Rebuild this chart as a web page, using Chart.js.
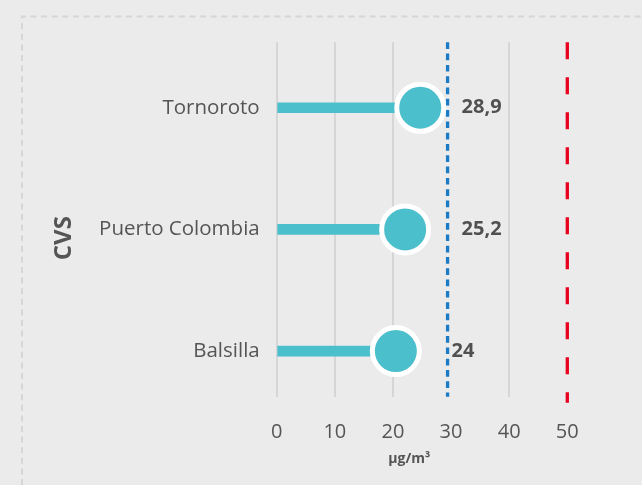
<!DOCTYPE html>
<html>
<head>
<meta charset="utf-8">
<script src="https://cdn.jsdelivr.net/npm/chart.js@4.4.1/dist/chart.umd.min.js"></script>
<style>
    html, body { margin: 0; padding: 0; background: #ebebeb; overflow: hidden; }
    #marc { position: absolute; left: 0; top: 0; }
    #grafic { position: absolute; left: 0; top: 0; }
</style>
</head>
<body>
<svg id="marc" width="642" height="485">
    <path d="M22 485 L22 16.5 L642 16.5" fill="none" stroke="#d6d6d6" stroke-width="2" stroke-dasharray="6 4.6"/>
</svg>
<canvas id="grafic" width="642" height="485"></canvas>
<script>
// dades llegides de la imatge
const estacions = ['Tornoroto', 'Puerto Colombia', 'Balsilla'];
const posicioPunt = [24.7, 22.1, 20.5];
const valorsEtiqueta = [28.9, 25.2, 24];
const limitBlau = 29.4;
const limitVermell = 50;
const ticksX = [0, 10, 20, 30, 40, 50];

Chart.defaults.font.family = "'Open Sans', sans-serif";
Chart.defaults.color = '#555';

const liniesReferencia = {
    id: 'liniesReferencia',
    beforeDatasetsDraw(chart) {
        const ctx = chart.ctx;
        const x = chart.scales.x;
        const area = chart.chartArea;
        ctx.save();
        ctx.lineWidth = 3.3;

        ctx.strokeStyle = '#1b7bc4';
        ctx.setLineDash([6.7, 4.6]);
        const xb = x.getPixelForValue(limitBlau);
        ctx.beginPath();
        ctx.moveTo(xb, area.top);
        ctx.lineTo(xb, area.bottom);
        ctx.stroke();

        ctx.strokeStyle = '#e8001c';
        ctx.setLineDash([17, 18]);
        const xv = x.getPixelForValue(limitVermell);
        ctx.beginPath();
        ctx.moveTo(xv, area.top);
        ctx.lineTo(xv, area.bottom + 6);
        ctx.stroke();
        ctx.restore();
    }
};

const etiquetesValor = {
    id: 'etiquetesValor',
    afterDatasetsDraw(chart) {
        const ctx = chart.ctx;
        const xb = chart.scales.x.getPixelForValue(limitBlau);
        const desplac = [14, 14, 4];
        ctx.save();
        ctx.font = 'bold 20px "Open Sans"';
        ctx.fillStyle = '#505050';
        ctx.textAlign = 'left';
        ctx.textBaseline = 'middle';
        valorsEtiqueta.forEach((v, i) => {
            const y = chart.scales.y.getPixelForValue(i);
            ctx.fillText(String(v).replace('.', ','), xb + desplac[i], y);
        });
        ctx.restore();
    }
};

const ctx = document.getElementById('grafic').getContext('2d');

new Chart(ctx, {
    type: 'bar',
    data: {
        datasets: [{
            type: 'line',
            data: posicioPunt.map((v, i) => ({ x: v, y: i })),
            showLine: false,
            pointRadius: 23.5,
            pointBorderWidth: 5,
            pointBackgroundColor: '#4bbfcc',
            pointBorderColor: '#ffffff',
            clip: false,
            order: 0
        }, {
            data: posicioPunt.map((v, i) => ({ x: v, y: i })),
            backgroundColor: '#4bbfcc',
            barThickness: 10,
            order: 1
        }]
    },
    options: {
        indexAxis: 'y',
        responsive: false,
        devicePixelRatio: 1,
        animation: false,
        events: [],
        layout: {
            padding: { left: 40, right: 74.7, top: 42.3, bottom: 10 }
        },
        plugins: {
            legend: { display: false },
            tooltip: { enabled: false }
        },
        scales: {
            x: {
                type: 'linear',
                min: 0,
                max: 50,
                afterBuildTicks: scale => { scale.ticks = ticksX.map(v => ({ value: v })); },
                afterFit: scale => { scale.height = 78.3; },
                grid: {
                    color: c => (c.tick && (c.tick.value === 30 || c.tick.value === 50)) ? 'rgba(0,0,0,0)' : '#d6d6d6',
                    lineWidth: 2,
                    drawTicks: false
                },
                border: { display: false },
                ticks: {
                    padding: 24,
                    font: { size: 20 },
                    color: '#555'
                },
                title: {
                    display: true,
                    // espais finals per desplaçar el títol cap a l'esquerra com a l'original
                    text: 'µg/m³       ',
                    font: { size: 14, weight: 'bold' },
                    color: '#555',
                    padding: { top: 8, bottom: 8 }
                }
            },
            y: {
                type: 'linear',
                reverse: true,
                offset: false,
                min: -0.538,
                max: 2.375,
                afterBuildTicks: scale => { scale.ticks = estacions.map((e, i) => ({ value: i })); },
                afterFit: scale => { scale.width = 236.7; },
                grid: { display: false, drawTicks: false },
                border: { display: false },
                ticks: {
                    padding: 17,
                    font: { size: 20.5 },
                    color: '#555',
                    callback: v => estacions[v]
                },
                title: {
                    display: true,
                    // espais finals per baixar el títol com a l'original
                    text: 'CVS      ',
                    font: { size: 24, weight: 'bold' },
                    color: '#555',
                    padding: { top: 9.3, bottom: 0 }
                }
            }
        }
    },
    plugins: [liniesReferencia, etiquetesValor]
});
</script>
</body>
</html>
